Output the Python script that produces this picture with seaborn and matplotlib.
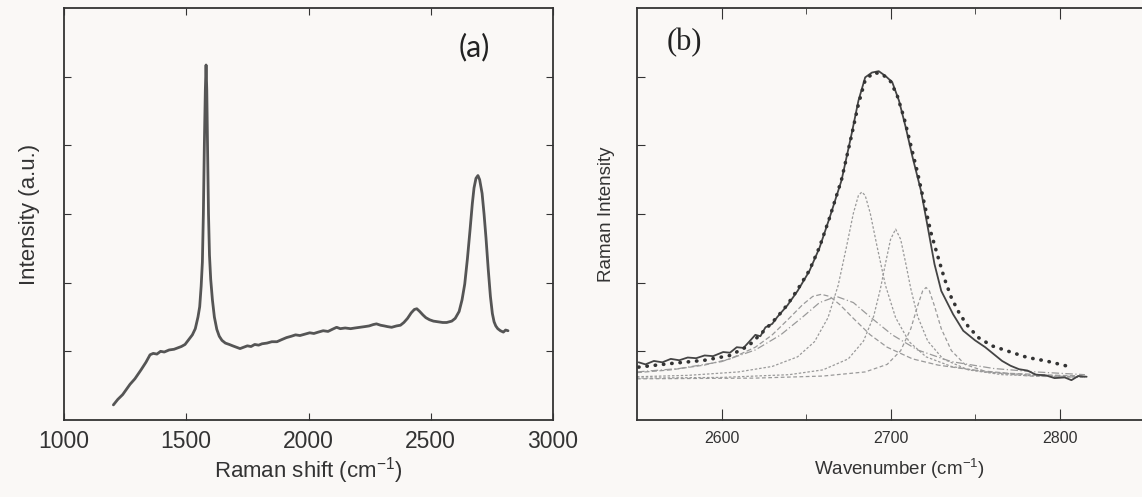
import matplotlib
matplotlib.use("Agg")
import matplotlib.pyplot as plt
import seaborn as sns

# panel (a): full Raman spectrum
raman_x = [1202, 1220, 1240, 1254, 1270, 1290, 1315, 1335, 1352, 1365, 1380, 1395, 1410, 1430,
           1450, 1465, 1480, 1495, 1510, 1525, 1537, 1548, 1555, 1561, 1566, 1570, 1574, 1578,
           1581, 1584, 1587, 1591, 1595, 1600, 1607, 1615, 1625, 1635, 1646, 1660, 1676, 1690,
           1705, 1720, 1735, 1750, 1765, 1780, 1796, 1810, 1830, 1850, 1871, 1890, 1910, 1930,
           1947, 1965, 1985, 2005, 2022, 2040, 2060, 2080, 2097, 2115, 2130, 2150, 2172, 2190,
           2210, 2230, 2248, 2265, 2278, 2295, 2310, 2323, 2340, 2360, 2376, 2390, 2405, 2420,
           2433, 2443, 2455, 2468, 2480, 2495, 2511, 2530, 2549, 2565, 2586, 2600, 2616, 2628,
           2639, 2650, 2661, 2670, 2677, 2685, 2693, 2700, 2710, 2718, 2726, 2735, 2744, 2752,
           2759, 2766, 2774, 2785, 2797, 2806, 2816]
raman_y = [0.22, 0.30, 0.37, 0.44, 0.52, 0.60, 0.73, 0.84, 0.95, 0.97, 0.96, 1.00, 0.99, 1.02,
           1.03, 1.05, 1.07, 1.10, 1.17, 1.24, 1.33, 1.50, 1.65, 1.95, 2.30, 3.00, 4.00, 4.80,
           5.17, 4.80, 4.00, 3.00, 2.40, 2.05, 1.75, 1.50, 1.32, 1.22, 1.16, 1.12, 1.10, 1.08,
           1.06, 1.04, 1.06, 1.08, 1.07, 1.10, 1.09, 1.11, 1.12, 1.14, 1.14, 1.17, 1.20, 1.22,
           1.24, 1.23, 1.25, 1.27, 1.26, 1.28, 1.30, 1.29, 1.32, 1.35, 1.33, 1.34, 1.33, 1.34,
           1.35, 1.36, 1.37, 1.39, 1.40, 1.38, 1.37, 1.36, 1.35, 1.37, 1.38, 1.42, 1.48, 1.56,
           1.61, 1.62, 1.58, 1.53, 1.49, 1.46, 1.44, 1.43, 1.42, 1.42, 1.44, 1.48, 1.58, 1.75,
           1.98, 2.35, 2.78, 3.15, 3.38, 3.52, 3.56, 3.50, 3.30, 3.00, 2.65, 2.20, 1.80, 1.55,
           1.43, 1.37, 1.33, 1.30, 1.28, 1.31, 1.30]

# panel (b): 2D band, measured curve
band_x = [2551, 2555, 2560, 2565, 2570, 2575, 2580, 2585, 2590, 2595, 2601, 2605, 2609, 2613,
          2616, 2620, 2623, 2626, 2630, 2633, 2639, 2645, 2652, 2658, 2664, 2671, 2677, 2681,
          2685, 2689, 2693, 2697, 2701, 2705, 2709, 2713, 2718, 2722, 2726, 2730, 2737, 2743,
          2750, 2756, 2762, 2766, 2771, 2776, 2781, 2786, 2792, 2797, 2803, 2807, 2811, 2816]
band_y = [0.84, 0.81, 0.86, 0.84, 0.89, 0.87, 0.91, 0.90, 0.94, 0.93, 0.99, 0.98, 1.06, 1.05,
          1.13, 1.24, 1.22, 1.35, 1.40, 1.50, 1.67, 1.88, 2.17, 2.51, 2.95, 3.49, 4.17, 4.65,
          4.99, 5.06, 5.08, 5.01, 4.92, 4.65, 4.26, 3.83, 3.34, 2.81, 2.27, 1.88, 1.54, 1.30,
          1.16, 1.06, 0.94, 0.86, 0.79, 0.74, 0.72, 0.66, 0.65, 0.61, 0.62, 0.58, 0.64, 0.63]

# cumulative fit (dotted)
fit_x = [2551, 2569, 2590, 2605, 2616, 2626, 2633, 2639, 2645, 2652, 2658, 2664, 2671, 2677,
         2681, 2685, 2690, 2695, 2700, 2704, 2708, 2712, 2716, 2720, 2724, 2728, 2732, 2736,
         2741, 2746, 2752, 2760, 2771, 2781, 2792, 2807]
fit_y = [0.77, 0.82, 0.87, 0.94, 1.08, 1.32, 1.50, 1.68, 1.90, 2.18, 2.52, 2.95, 3.50, 4.15,
         4.60, 4.95, 5.06, 5.04, 4.93, 4.72, 4.40, 4.00, 3.60, 3.15, 2.72, 2.38, 2.05, 1.78,
         1.54, 1.36, 1.20, 1.08, 0.99, 0.91, 0.86, 0.77]

# fitted components
compA_x = [2550, 2580, 2610, 2630, 2645, 2655, 2663, 2669, 2674, 2678, 2681, 2683, 2685, 2688,
           2692, 2697, 2703, 2711, 2721, 2736, 2756, 2786, 2815]
compA_y = [0.63, 0.65, 0.70, 0.78, 0.92, 1.14, 1.49, 1.96, 2.53, 3.01, 3.27, 3.32, 3.27, 3.01,
           2.53, 1.96, 1.49, 1.14, 0.92, 0.78, 0.70, 0.65, 0.63]
compB_x = [2550, 2600, 2640, 2660, 2675, 2684, 2690, 2694, 2697, 2700, 2703, 2706, 2709, 2712,
           2716, 2722, 2731, 2746, 2766, 2815]
compB_y = [0.61, 0.62, 0.66, 0.73, 0.89, 1.15, 1.51, 1.91, 2.28, 2.63, 2.78, 2.63, 2.28, 1.91,
           1.51, 1.15, 0.89, 0.73, 0.66, 0.62]
compC_x = [2550, 2620, 2660, 2685, 2698, 2706, 2712, 2716, 2719, 2721, 2723, 2726, 2730, 2736,
           2744, 2757, 2782, 2815]
compC_y = [0.60, 0.61, 0.64, 0.70, 0.81, 1.01, 1.33, 1.66, 1.88, 1.93, 1.88, 1.66, 1.33, 1.01,
           0.81, 0.70, 0.64, 0.62]
compD_x = [2550, 2570, 2590, 2605, 2620, 2630, 2640, 2648, 2654, 2659, 2664, 2670, 2678, 2688,
           2698, 2713, 2728, 2748, 2770, 2800, 2815]
compD_y = [0.69, 0.73, 0.80, 0.89, 1.06, 1.24, 1.48, 1.68, 1.80, 1.83, 1.80, 1.68, 1.48, 1.24,
           1.06, 0.89, 0.80, 0.73, 0.68, 0.65, 0.64]
compE_x = [2550, 2575, 2600, 2620, 2635, 2648, 2658, 2668, 2678, 2688, 2701, 2716, 2736, 2761,
           2786, 2815]
compE_y = [0.70, 0.75, 0.85, 1.02, 1.24, 1.50, 1.71, 1.80, 1.71, 1.50, 1.24, 1.02, 0.85, 0.75,
           0.70, 0.66]

a_ticks = [1000, 1500, 2000, 2500, 3000]
b_ticks = [2600, 2700, 2800]

sns.set_style("ticks")
plt.rcParams['font.family'] = ['Liberation Sans', 'DejaVu Sans']
plt.rcParams['mathtext.fontset'] = 'custom'
plt.rcParams['mathtext.rm'] = 'Liberation Sans'
plt.rcParams['mathtext.it'] = 'Liberation Sans:italic'

bg = '#faf8f6'
ink = '#333333'
fig = plt.figure(figsize=(11.42, 4.97), dpi=100, facecolor=bg)
ax1 = fig.add_axes([64 / 1142, 77 / 497, 489 / 1142, 412 / 497])
ax2 = fig.add_axes([637 / 1142, 77 / 497, 524 / 1142, 412 / 497])

for ax in (ax1, ax2):
    ax.set_facecolor(bg)
    for s in ax.spines.values():
        s.set_color(ink)
        s.set_linewidth(1.3)
    ax.set_ylim(0, 6)
    ax.set_yticks([1, 2, 3, 4, 5])
    ax.set_yticklabels([])
    ax.tick_params(direction='in', top=True, right=True, color=ink)

# (a)
sns.lineplot(x=raman_x, y=raman_y, ax=ax1, color='#555555', lw=2.0)
ax1.set_xlim(1000, 3000)
ax1.set_xticks(a_ticks)
ax1.tick_params(axis='x', labelsize=16.5, length=5, pad=7, labelcolor=ink)
ax1.tick_params(axis='y', length=5)
ax1.set_xlabel(r'Raman shift (cm$^{-1}$)', fontsize=16, color=ink, labelpad=2)
ax1.set_ylabel('Intensity (a.u.)', fontsize=16, color=ink, labelpad=14)
ax1.text(0.840, 0.905, '(a)', transform=ax1.transAxes, fontsize=22, ha='center', va='center',
         family='Lato', color='#222222')

# (b)
comp_style = dict(color='#9a9a9a', lw=0.9)
sns.lineplot(x=compE_x, y=compE_y, ax=ax2, linestyle=(0, (6, 2, 1, 2)), **comp_style)
sns.lineplot(x=compD_x, y=compD_y, ax=ax2, linestyle=(0, (4, 2)), **comp_style)
sns.lineplot(x=compA_x, y=compA_y, ax=ax2, linestyle=(0, (2, 1.5)), **comp_style)
sns.lineplot(x=compB_x, y=compB_y, ax=ax2, linestyle=(0, (2, 1.5)), **comp_style)
sns.lineplot(x=compC_x, y=compC_y, ax=ax2, linestyle=(0, (3, 2)), **comp_style)
sns.lineplot(x=band_x, y=band_y, ax=ax2, color='#444444', lw=1.3)
sns.lineplot(x=fit_x, y=fit_y, ax=ax2, color=ink, lw=2.6,
             linestyle=(0, (0.1, 2.2)), dash_capstyle='round')
ax2.set_xlim(2550, 2860)
ax2.set_xticks(b_ticks)
ax2.set_xticks([2650, 2750, 2850], minor=True)
ax2.tick_params(axis='x', which='major', labelsize=11.5, length=8, pad=8, labelcolor=ink)
ax2.tick_params(axis='x', which='minor', direction='in', top=True, length=4, color=ink)
ax2.tick_params(axis='y', length=6)
ax2.set_xlabel(r'Wavenumber (cm$^{-1}$)', fontsize=13.5, color=ink, labelpad=8)
ax2.set_ylabel('Raman Intensity', fontsize=13.5, color=ink, labelpad=12)
ax2.text(0.090, 0.917, '(b)', transform=ax2.transAxes, fontsize=22, ha='center', va='center',
         family='Liberation Serif', color='#222222')

fig.savefig('out.png', dpi=100, facecolor=bg)
